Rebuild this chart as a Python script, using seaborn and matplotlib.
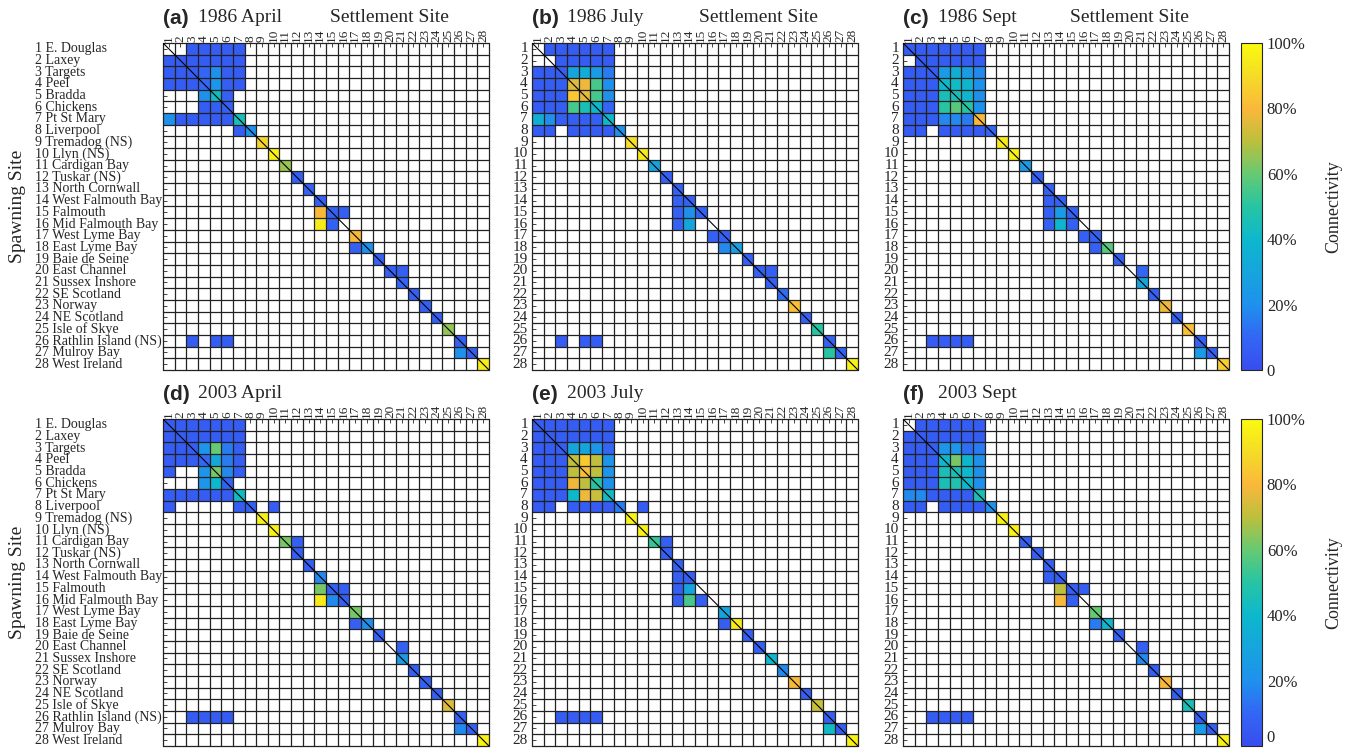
import numpy as np
import pandas as pd
import matplotlib
matplotlib.use("Agg")
import matplotlib.pyplot as plt
import seaborn as sns
from matplotlib.colors import LinearSegmentedColormap

# site names (spawning = rows, settlement = columns)
sites = ["E. Douglas", "Laxey", "Targets", "Peel", "Bradda", "Chickens",
         "Pt St Mary", "Liverpool", "Tremadog (NS)", "Llyn (NS)", "Cardigan Bay",
         "Tuskar (NS)", "North Cornwall", "West Falmouth Bay", "Falmouth",
         "Mid Falmouth Bay", "West Lyme Bay", "East Lyme Bay", "Baie de Seine",
         "East Channel", "Sussex Inshore", "SE Scotland", "Norway", "NE Scotland",
         "Isle of Skye", "Rathlin Island (NS)", "Mulroy Bay", "West Ireland"]

# connectivity in %, {spawning site: {settlement site: value}}, empty cells = 0
conn_1986_apr = {
    1: {3: 6, 4: 6, 5: 6, 6: 6, 7: 6},
    2: {1: 6, 2: 6, 3: 6, 4: 6, 5: 6, 6: 6, 7: 6},
    3: {1: 6, 2: 6, 3: 6, 4: 10, 5: 20, 6: 7, 7: 6},
    4: {1: 6, 2: 6, 3: 6, 4: 10, 5: 22, 6: 7, 7: 6},
    5: {4: 20, 5: 42, 6: 8},
    6: {4: 6, 5: 7, 6: 8},
    7: {1: 20, 2: 6, 3: 6, 4: 6, 5: 6, 6: 6, 7: 45},
    8: {7: 6, 8: 20},
    9: {9: 88}, 10: {10: 97}, 11: {11: 66}, 12: {12: 7}, 13: {13: 8}, 14: {14: 8},
    15: {14: 80, 15: 8, 16: 7},
    16: {14: 95, 15: 8},
    17: {17: 80}, 18: {17: 8, 18: 20}, 19: {19: 8}, 20: {20: 7, 21: 7},
    21: {21: 10}, 22: {22: 8}, 23: {23: 8}, 24: {24: 7}, 25: {25: 65},
    26: {3: 6, 5: 6, 6: 6, 26: 8},
    27: {26: 20, 27: 7}, 28: {28: 96},
}

conn_1986_jul = {
    1: {2: 6, 3: 6, 4: 6, 5: 6, 6: 6, 7: 6},
    2: {3: 6, 4: 6, 5: 6, 6: 6, 7: 6},
    3: {1: 6, 2: 6, 3: 7, 4: 30, 5: 34, 6: 25, 7: 15},
    4: {1: 6, 2: 6, 3: 7, 4: 75, 5: 78, 6: 55, 7: 20},
    5: {1: 6, 2: 6, 3: 7, 4: 84, 5: 76, 6: 55, 7: 20},
    6: {1: 6, 2: 6, 3: 7, 4: 55, 5: 45, 6: 40, 7: 10},
    7: {1: 35, 2: 20, 3: 7, 4: 7, 5: 7, 6: 7, 7: 40},
    8: {1: 6, 2: 6, 4: 6, 5: 6, 6: 6, 7: 6, 8: 20},
    9: {9: 92}, 10: {10: 95}, 11: {11: 30}, 12: {12: 8}, 13: {13: 8},
    14: {13: 8, 14: 8},
    15: {13: 8, 14: 20, 15: 8},
    16: {13: 8, 14: 30},
    17: {16: 8, 17: 8}, 18: {17: 18, 18: 28}, 19: {19: 8}, 20: {20: 8, 21: 8},
    21: {21: 8}, 22: {22: 12}, 23: {23: 82}, 24: {24: 8}, 25: {25: 50},
    26: {3: 6, 5: 6, 6: 6, 26: 8},
    27: {26: 50, 27: 8}, 28: {28: 97},
}

conn_1986_sep = {
    1: {1: 6, 2: 6, 3: 6, 4: 6, 5: 6, 6: 6, 7: 6},
    2: {2: 6, 3: 6, 4: 6, 5: 6, 6: 6, 7: 6},
    3: {1: 6, 2: 6, 3: 6, 4: 25, 5: 35, 6: 25, 7: 18},
    4: {1: 6, 2: 6, 3: 6, 4: 40, 5: 42, 6: 38, 7: 20},
    5: {1: 6, 2: 6, 3: 6, 4: 45, 5: 45, 6: 38, 7: 20},
    6: {1: 6, 2: 6, 3: 6, 4: 50, 5: 58, 6: 50, 7: 20},
    7: {1: 6, 2: 6, 3: 6, 4: 18, 5: 18, 6: 15, 7: 80},
    8: {1: 6, 2: 6, 4: 6, 5: 6, 6: 6, 7: 6, 8: 10},
    9: {9: 95}, 10: {10: 97}, 11: {11: 25}, 12: {12: 8}, 13: {13: 8},
    14: {13: 8, 14: 8},
    15: {13: 8, 14: 25, 15: 8},
    16: {13: 8, 14: 38, 15: 8},
    17: {16: 8, 17: 8}, 18: {17: 8, 18: 58}, 19: {19: 8}, 20: {21: 10},
    21: {21: 30}, 22: {22: 8}, 23: {23: 78}, 24: {24: 8}, 25: {25: 82},
    26: {3: 6, 4: 6, 5: 6, 6: 6, 26: 8},
    27: {26: 25, 27: 8}, 28: {28: 86},
}

conn_2003_apr = {
    1: {1: 6, 2: 6, 3: 6, 4: 6, 5: 6, 6: 6, 7: 6},
    2: {1: 6, 2: 6, 3: 6, 4: 6, 5: 6, 6: 6, 7: 6},
    3: {1: 6, 2: 6, 3: 6, 4: 22, 5: 60, 6: 15, 7: 7},
    4: {1: 6, 2: 6, 3: 6, 4: 10, 5: 32, 6: 15, 7: 7},
    5: {1: 6, 4: 22, 5: 62, 6: 18, 7: 7},
    6: {4: 22, 5: 40, 6: 8},
    7: {1: 6, 2: 6, 3: 6, 4: 6, 5: 6, 6: 6, 7: 42},
    8: {1: 6, 7: 6, 8: 8, 10: 6},
    9: {9: 97}, 10: {10: 97}, 11: {11: 62, 12: 7}, 12: {12: 7}, 13: {13: 7},
    14: {14: 18},
    15: {14: 62, 15: 8, 16: 7},
    16: {14: 95, 15: 18, 16: 7},
    17: {17: 62}, 18: {17: 8, 18: 20}, 19: {19: 8}, 20: {21: 8},
    21: {21: 25}, 22: {22: 8}, 23: {23: 8}, 24: {24: 8}, 25: {25: 75},
    26: {3: 6, 4: 6, 5: 6, 6: 6, 26: 8},
    27: {26: 18, 27: 8}, 28: {28: 97},
}

conn_2003_jul = {
    1: {1: 6, 2: 6, 3: 6, 4: 6, 5: 6, 6: 6, 7: 6},
    2: {1: 6, 2: 6, 3: 6, 4: 6, 5: 6, 6: 6, 7: 6},
    3: {1: 6, 2: 6, 3: 6, 4: 30, 5: 30, 6: 22, 7: 10},
    4: {1: 6, 2: 6, 3: 6, 4: 70, 5: 85, 6: 70, 7: 22},
    5: {1: 6, 2: 6, 3: 6, 4: 70, 5: 82, 6: 70, 7: 22},
    6: {1: 6, 2: 6, 3: 6, 4: 78, 5: 70, 6: 50, 7: 20},
    7: {1: 6, 2: 6, 3: 6, 4: 40, 5: 78, 6: 72, 7: 42},
    8: {1: 6, 2: 6, 4: 6, 5: 6, 6: 6, 7: 6, 8: 15, 10: 6},
    9: {9: 97}, 10: {10: 97}, 11: {11: 52, 12: 7}, 12: {12: 7}, 13: {13: 7},
    14: {13: 7, 14: 7},
    15: {13: 7, 14: 30},
    16: {13: 7, 14: 55, 15: 7},
    17: {17: 30}, 18: {17: 7, 18: 95}, 19: {19: 7}, 20: {20: 7},
    21: {21: 40}, 22: {22: 18}, 23: {23: 80}, 24: {24: 7}, 25: {25: 72},
    26: {3: 6, 4: 6, 5: 6, 6: 6, 26: 7},
    27: {26: 42, 27: 7}, 28: {28: 97},
}

conn_2003_sep = {
    1: {2: 6, 3: 6, 4: 6, 5: 6, 6: 6, 7: 6},
    2: {1: 6, 2: 6, 3: 6, 4: 6, 5: 6, 6: 6, 7: 6},
    3: {1: 6, 2: 6, 3: 6, 4: 22, 5: 22, 6: 12, 7: 15},
    4: {1: 6, 2: 6, 3: 6, 4: 40, 5: 62, 6: 38, 7: 20},
    5: {1: 6, 2: 6, 3: 6, 4: 45, 5: 45, 6: 40, 7: 20},
    6: {1: 6, 2: 6, 3: 6, 4: 45, 5: 47, 6: 40, 7: 20},
    7: {1: 18, 2: 18, 3: 6, 4: 6, 5: 6, 6: 6, 7: 45},
    8: {1: 6, 2: 6, 4: 6, 5: 6, 6: 6, 7: 6, 8: 20},
    9: {9: 97}, 10: {10: 97}, 11: {11: 7}, 12: {12: 7}, 13: {13: 7},
    14: {13: 7, 14: 7},
    15: {14: 70, 15: 7, 16: 7},
    16: {14: 80, 15: 7},
    17: {17: 60}, 18: {17: 15, 18: 40}, 19: {19: 7}, 20: {21: 7},
    21: {21: 18}, 22: {22: 7}, 23: {23: 80}, 24: {24: 7}, 25: {25: 45},
    26: {3: 6, 4: 6, 5: 6, 6: 6, 26: 7},
    27: {26: 25, 27: 7}, 28: {28: 97},
}

panels = [("(a)", "1986 April", conn_1986_apr), ("(b)", "1986 July", conn_1986_jul),
          ("(c)", "1986 Sept", conn_1986_sep), ("(d)", "2003 April", conn_2003_apr),
          ("(e)", "2003 July", conn_2003_jul), ("(f)", "2003 Sept", conn_2003_sep)]

# parula-like colormap
cmap = LinearSegmentedColormap.from_list("parula_like", [
    (0.00, (0.22, 0.30, 0.94)), (0.10, (0.20, 0.40, 0.96)),
    (0.20, (0.12, 0.57, 0.93)), (0.40, (0.05, 0.72, 0.80)),
    (0.50, (0.15, 0.77, 0.64)), (0.60, (0.40, 0.79, 0.45)),
    (0.70, (0.74, 0.75, 0.24)), (0.80, (0.98, 0.72, 0.23)),
    (0.90, (0.96, 0.86, 0.15)), (1.00, (0.98, 0.98, 0.06))])

sns.set_style("white")
plt.rcParams['font.family'] = ['Liberation Serif', 'DejaVu Serif']

W, H = 1354, 752
fig = plt.figure(figsize=(W / 100, H / 100), dpi=100)

lefts = [163, 532, 903]
tops = [43, 419]
size_w, size_h = 326, 327
n = len(sites)

for i, (tag, title, conn) in enumerate(panels):
    row, col = divmod(i, 3)
    x0, y0 = lefts[col], tops[row]
    ax = fig.add_axes([x0 / W, 1 - (y0 + size_h) / H, size_w / W, size_h / H])

    mat = np.full((n, n), np.nan)
    for s, d in conn.items():
        for t, v in d.items():
            mat[s - 1, t - 1] = v / 100
    df = pd.DataFrame(mat, index=range(1, n + 1), columns=range(1, n + 1))

    sns.heatmap(df, ax=ax, cmap=cmap, vmin=0, vmax=1, cbar=False)
    ax.set_facecolor("white")
    for k in range(n + 1):
        ax.axhline(k, color="#222222", lw=0.9, clip_on=False)
        ax.axvline(k, color="#222222", lw=0.9, clip_on=False)
    ax.plot([0, n], [0, n], color="black", lw=0.8)

    ax.xaxis.tick_top()
    ax.set_xticks(np.arange(n) + 0.5)
    ax.set_xticklabels([str(k) for k in range(1, n + 1)], rotation=90, fontsize=9.5)
    ax.set_yticks(np.arange(n) + 0.5)
    ax.tick_params(axis="x", top=True, bottom=False, direction="in", length=3,
                   pad=1, width=0.6)
    ax.set_xlabel("")
    ax.set_ylabel("")

    if col == 0:
        ax.set_yticklabels([f"{k} {nm}" for k, nm in enumerate(sites, 1)],
                           rotation=0, fontsize=10)
        ax.tick_params(axis="y", left=True, direction="in", length=3, pad=92,
                       width=0.6)
        for lab in ax.get_yticklabels():
            lab.set_horizontalalignment("left")
        fig.text(18 / W, 1 - (y0 + 163) / H, "Spawning Site", rotation=90,
                 ha="center", va="center", fontsize=14)
    else:
        ax.set_yticklabels([str(k) for k in range(1, n + 1)], rotation=0, fontsize=11)
        ax.tick_params(axis="y", left=True, direction="in", length=3, pad=3,
                       width=0.6)

    ty = 1 - (y0 - 25) / H
    fig.text(x0 / W, ty, tag, fontsize=15, fontweight="bold",
             family=["Liberation Sans", "DejaVu Sans"], ha="left", va="center")
    fig.text((x0 + 35) / W, ty, title, fontsize=14, ha="left", va="center")
    if row == 0:
        fig.text((x0 + 167) / W, ty, "Settlement Site", fontsize=14,
                 ha="left", va="center")

    if col == 2:
        cax = fig.add_axes([1241 / W, 1 - (y0 + size_h) / H, 21 / W, size_h / H])
        cb = fig.colorbar(ax.collections[0], cax=cax)
        cb.set_ticks([0, 0.2, 0.4, 0.6, 0.8, 1.0])
        cb.set_ticklabels(["0", "20%", "40%", "60%", "80%", "100%"])
        cb.outline.set_linewidth(0.8)
        cax.tick_params(direction="in", length=3, labelsize=12, width=0.6)
        if row == 1:
            # keep the bottom "0" inside the figure
            cax.get_yticklabels()[0].set_verticalalignment("bottom")
        cb.set_label("Connectivity", fontsize=13, labelpad=14)

fig.savefig("out.png", dpi=100)
